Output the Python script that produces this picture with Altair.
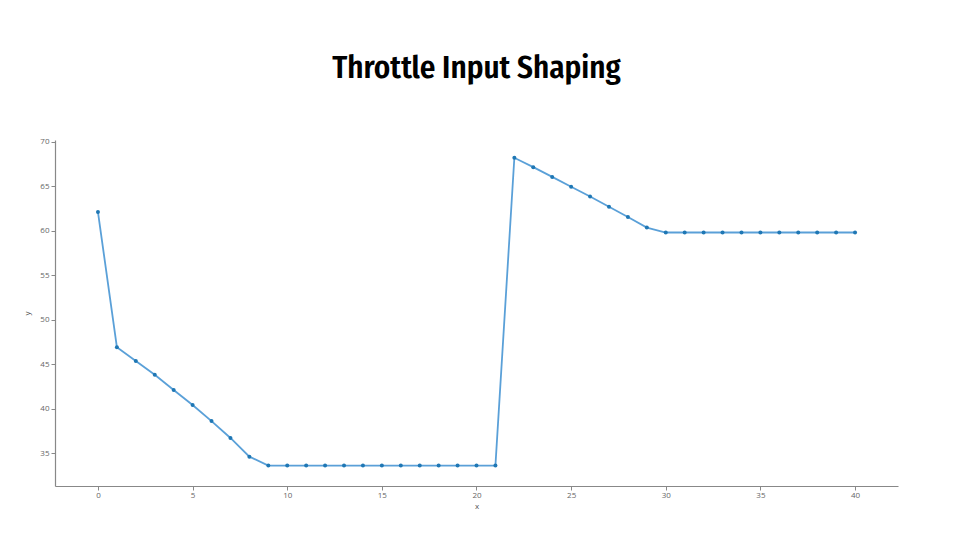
import altair as alt
import pandas as pd

# throttle input shaping curve
xs = list(range(0, 41))
ys = [62.1, 46.9, 45.35, 43.8, 42.1, 40.4, 38.6, 36.7, 34.6] + [33.6] * 13 + \
     [68.2, 67.15, 66.05, 64.95, 63.85, 62.7, 61.55, 60.35] + [59.8] * 11

x_ticks = [0, 5, 10, 15, 20, 25, 30, 35, 40]
y_ticks = [35, 40, 45, 50, 55, 60, 65, 70]

source = pd.DataFrame({'x': xs, 'y': ys})

axis_style = dict(
    grid=False, domainColor='#888', domainWidth=1.2, tickColor='#888',
    tickSize=4, labelColor='#666', labelFontSize=8, labelFont='Open Sans',
    titleColor='#555', titleFontSize=8, titleFont='Open Sans', titleFontWeight='normal',
)

base = alt.Chart(source).encode(
    x=alt.X('x:Q', scale=alt.Scale(domain=[-2.27, 42.27], nice=False, zero=False),
            axis=alt.Axis(values=x_ticks, labelPadding=1, titlePadding=3, **axis_style)),
    y=alt.Y('y:Q', scale=alt.Scale(domain=[31.3, 70.2], nice=False, zero=False),
            axis=alt.Axis(values=y_ticks, labelPadding=2, titlePadding=8, **axis_style)),
)

line = base.mark_line(color='#3d8fd1', strokeWidth=1.8, opacity=0.85)
points = base.mark_circle(color='#1f77b4', size=16, opacity=1)

chart = (line + points).properties(
    width=843,
    height=346,
    padding={'left': 47, 'top': 132, 'right': 10, 'bottom': 46},
    autosize=alt.AutoSizeParams(type='none'),
    title=alt.TitleParams('Throttle Input Shaping',
                          font='Fira Sans Condensed, Roboto Condensed, Roboto, sans-serif',
                          fontSize=31, fontWeight=600, color='#000',
                          anchor='middle', offset=53),
).configure_view(stroke=None)

chart.save("out.html", embed_options={"renderer": "svg", "actions": False})
